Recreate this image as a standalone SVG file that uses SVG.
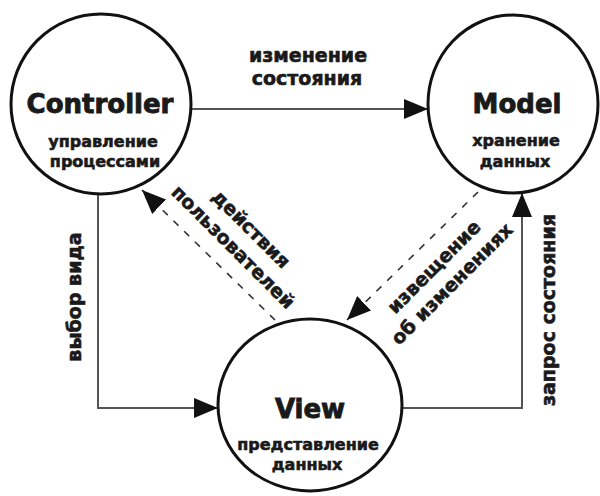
<svg xmlns="http://www.w3.org/2000/svg" width="600" height="496" viewBox="0 0 600 496">
  <style>
    .node { fill: #ffffff; stroke: #111111; stroke-width: 3; }
    .title, .sub, .lbl { font-family: "DejaVu Sans", "Liberation Sans", sans-serif; font-weight: bold; fill: #1a1a1a; stroke: #1a1a1a; stroke-width: 0.6; text-anchor: middle; }
    .title { font-size: 26px; stroke-width: 0.9; }
    .sub { font-size: 16px; }
    .lbl { font-size: 19px; }
    .flow { fill: none; stroke: #555555; stroke-width: 2; }
    .event { fill: none; stroke: #333333; stroke-width: 1.6; stroke-dasharray: 7 8; }
  </style>
  <defs>
    <marker id="head" markerUnits="userSpaceOnUse" markerWidth="24" markerHeight="20" refX="24" refY="10" orient="auto">
      <path d="M0,0 L24,10 L0,20 z" fill="#111111"/>
    </marker>
  </defs>

  <g id="connectors">
    <!-- Controller -> Model -->
    <path class="flow" d="M192,109 L428,109" marker-end="url(#head)"/>
    <!-- Controller -> View -->
    <path class="flow" d="M98,194 L98,408 L218,408" marker-end="url(#head)"/>
    <!-- View -> Model -->
    <path class="flow" d="M402,408 L522,408 L522,193" marker-end="url(#head)"/>
    <!-- View -> Controller (user actions) -->
    <path class="event" d="M275,320 L142,190" marker-end="url(#head)"/>
    <!-- Model -> View (change notification) -->
    <path class="event" d="M478,192 L347,320" marker-end="url(#head)"/>

    <text class="lbl" x="308" y="62">изменение</text>
    <text class="lbl" x="307" y="85">состояния</text>
    <text class="lbl" transform="translate(81,297) rotate(-90)">выбор вида</text>
    <text class="lbl" transform="translate(555,310) rotate(-90)">запрос состояния</text>
    <text class="lbl" transform="translate(246.5,233.5) rotate(45)">действия</text>
    <text class="lbl" transform="translate(228.5,251.5) rotate(45)">пользователей</text>
    <text class="lbl" transform="translate(438.5,271.5) rotate(-45)">извещение</text>
    <text class="lbl" transform="translate(456.5,288.5) rotate(-45)">об изменениях</text>
  </g>

  <g id="controller">
    <circle class="node" cx="101" cy="104" r="90"/>
    <text class="title" x="100" y="113">Controller</text>
    <text class="sub" x="103" y="147">управление</text>
    <text class="sub" x="105" y="167">процессами</text>
  </g>

  <g id="model">
    <ellipse class="node" cx="513" cy="104" rx="85" ry="89"/>
    <text class="title" x="517" y="113">Model</text>
    <text class="sub" x="516" y="146">хранение</text>
    <text class="sub" x="515" y="167">данных</text>
  </g>

  <g id="view">
    <ellipse class="node" cx="310" cy="405" rx="92" ry="86"/>
    <text class="title" x="310" y="418">View</text>
    <text class="sub" x="308" y="450">представление</text>
    <text class="sub" x="307" y="470">данных</text>
  </g>
</svg>
